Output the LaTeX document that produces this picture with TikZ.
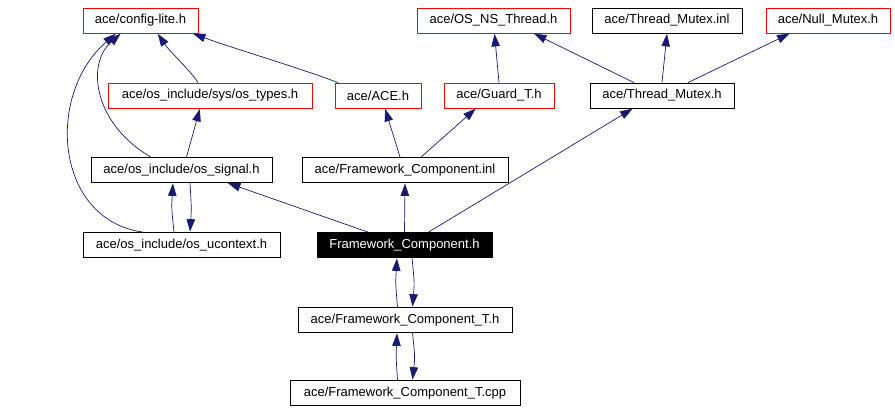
\documentclass[tikz,border=0pt]{standalone}
\usepackage{fontspec}
\setmainfont{Liberation Sans}
\usetikzlibrary{arrows.meta}
\definecolor{edgeblue}{HTML}{191970}
\definecolor{boxred}{HTML}{FF0000}
\tikzset{
  box/.style={draw=black, fill=white, line width=0.8pt, minimum height=25pt, inner sep=0pt, font=\fontsize{13}{15}\selectfont, text=black},
  redbox/.style={box, draw=boxred},
  blackbox/.style={box, fill=black, text=white},
  dep/.style={draw=edgeblue, line width=0.7pt, -{Triangle[length=12.5pt,width=8.5pt]}, shorten >=0.5pt},
}
\begin{document}
\begin{tikzpicture}[x=1pt,y=-1pt]
\useasboundingbox (0,0) rectangle (895,413);
% row 1
\node[redbox, minimum width=115pt] (cfg) at (140.5,20.5) {ace/config-lite.h};
\node[redbox, minimum width=153pt] (osns) at (493.5,20.5) {ace/OS\_NS\_Thread.h};
\node[box, minimum width=150pt] (tminl) at (667,20.5) {ace/Thread\_Mutex.inl};
\node[redbox, minimum width=124pt] (null) at (828,20.5) {ace/Null\_Mutex.h};
% row 2
\node[redbox, minimum width=204pt] (ostypes) at (210,95.5) {ace/os\_include/sys/os\_types.h};
\node[redbox, minimum width=86pt] (ace) at (378,95.5) {ace/ACE.h};
\node[redbox, minimum width=110pt] (guard) at (499,95.5) {ace/Guard\_T.h};
\node[box, minimum width=144pt] (tmh) at (662,95.5) {ace/Thread\_Mutex.h};
% row 3
\node[box, minimum width=181pt] (osig) at (181.5,170) {ace/os\_include/os\_signal.h};
\node[box, minimum width=206pt] (fcinl) at (405,170) {ace/Framework\_Component.inl};
% row 4
\node[box, minimum width=197pt] (ouc) at (181.5,245) {ace/os\_include/os\_ucontext.h};
\node[blackbox, minimum width=175pt] (fch) at (404.5,245) {Framework\_Component.h};
% row 5
\node[box, minimum width=214pt] (fcth) at (405,320) {ace/Framework\_Component\_T.h};
% row 6
\node[box, minimum width=230pt] (fctcpp) at (405,393) {ace/Framework\_Component\_T.cpp};

% edges
\draw[dep] ([xshift=-12pt]ostypes.north) .. controls (190,70) and (170,52) .. ([xshift=17pt]cfg.south);
\draw[dep] ([xshift=-40pt]ace.north) .. controls (300,68) and (232,48) .. ([xshift=52pt]cfg.south);
\draw[dep] ([xshift=-30.5pt]osig.north) .. controls (95,125) and (85,65) .. ([xshift=-19.5pt]cfg.south);
\draw[dep] ([xshift=-38.5pt]ouc.north) .. controls (55,220) and (45,95) .. ([xshift=-24.5pt]cfg.south);
\draw[dep] ([xshift=5pt]osig.north) -- ([xshift=-10pt]ostypes.south);
\draw[dep] ([xshift=-7.5pt]ouc.north) .. controls (171.5,208) .. ([xshift=-8.5pt]osig.south);
\draw[dep] ([xshift=8.5pt]osig.south) .. controls (191.5,208) .. ([xshift=8.5pt]ouc.north);
\draw[dep] ([xshift=-36.5pt]fch.north) -- ([xshift=-45pt]osig.south east);
\draw[dep] (fch.north) -- (fcinl.south);
\draw[dep] ([xshift=24pt]fch.north) -- ([xshift=-29pt]tmh.south);
\draw[dep] ([xshift=-5pt]fcinl.north) -- ([xshift=7pt]ace.south);
\draw[dep] ([xshift=16pt]fcinl.north) -- ([xshift=-23pt]guard.south);
\draw[dep] (guard.north) -- ([xshift=1pt]osns.south);
\draw[dep] ([xshift=-28pt]tmh.north) -- ([xshift=40pt]osns.south);
\draw[dep] (tmh.north) -- (tminl.south);
\draw[dep] ([xshift=26pt]tmh.north) -- ([xshift=-38pt]null.south);
\draw[dep] ([xshift=-7.5pt]fcth.north) .. controls (395.5,283) .. ([xshift=-7.5pt]fch.south);
\draw[dep] ([xshift=7.5pt]fch.south) .. controls (414.5,283) .. ([xshift=7.5pt]fcth.north);
\draw[dep] ([xshift=-7.5pt]fctcpp.north) .. controls (396,357) .. ([xshift=-8pt]fcth.south);
\draw[dep] ([xshift=7.5pt]fcth.south) .. controls (415,357) .. ([xshift=7.5pt]fctcpp.north);
\end{tikzpicture}
\end{document}
